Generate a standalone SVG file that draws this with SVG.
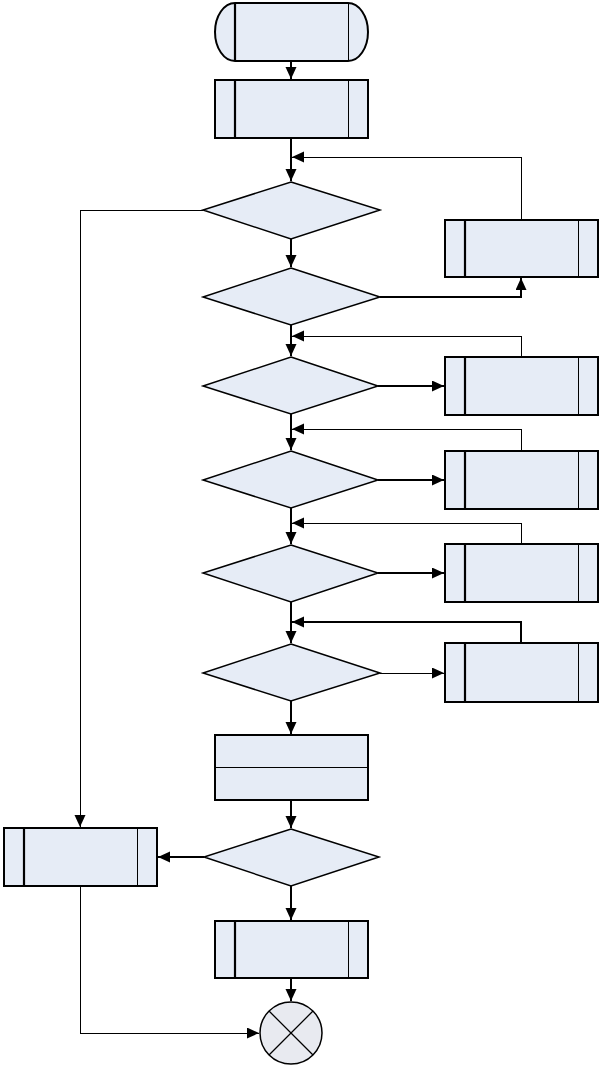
<svg xmlns="http://www.w3.org/2000/svg" width="601" height="1068" viewBox="0 0 601 1068">
<style>
.n{fill:#e6ecf6;stroke:#000;stroke-width:2}
.d{fill:#e6ecf6;stroke:#000;stroke-width:1.5}
.ti{stroke:#000;stroke-width:2.2;fill:none}
.tn{stroke:#000;stroke-width:1;fill:none;shape-rendering:crispEdges}
.c2{stroke:#000;stroke-width:2;fill:none}
.c1{stroke:#000;stroke-width:1;fill:none;shape-rendering:crispEdges}
</style>
<defs>
<marker id="ah" markerUnits="userSpaceOnUse" markerWidth="14" markerHeight="12" refX="12" refY="5.5" orient="auto">
<path d="M0,0 L12,5.5 L0,11 Z" fill="#000"/>
</marker>
</defs>
<rect width="601" height="1068" fill="#fff"/>
<g id="connectors">
<path class="c2" d="M291,61 V79" marker-end="url(#ah)"/>
<path class="c2" d="M291,138 V181" marker-end="url(#ah)"/>
<path class="c1" d="M521,220 V157 H292" marker-end="url(#ah)"/>
<path class="c2" d="M291,239 V267" marker-end="url(#ah)"/>
<path class="c2" d="M380,297 H521 V278" marker-end="url(#ah)"/>
<path class="c1" d="M203,210 H80 V827" marker-end="url(#ah)"/>
<path class="c2" d="M291,325 V356" marker-end="url(#ah)"/>
<path class="c1" d="M521,357 V336 H292" marker-end="url(#ah)"/>
<path class="c2" d="M378,386 H444" marker-end="url(#ah)"/>
<path class="c2" d="M291,414 V450" marker-end="url(#ah)"/>
<path class="c1" d="M521,451 V429 H292" marker-end="url(#ah)"/>
<path class="c2" d="M378,480 H444" marker-end="url(#ah)"/>
<path class="c2" d="M291,508 V544" marker-end="url(#ah)"/>
<path class="c1" d="M521,544 V523 H292" marker-end="url(#ah)"/>
<path class="c2" d="M378,573 H444" marker-end="url(#ah)"/>
<path class="c2" d="M291,602 V643" marker-end="url(#ah)"/>
<path class="c2" d="M521,643 V622 H292" marker-end="url(#ah)"/>
<path class="c1" d="M380,673 H444" marker-end="url(#ah)"/>
<path class="c2" d="M291,701 V734" marker-end="url(#ah)"/>
<path class="c2" d="M291,800 V828" marker-end="url(#ah)"/>
<path class="c2" d="M204,857 H158" marker-end="url(#ah)"/>
<path class="c2" d="M291,886 V920" marker-end="url(#ah)"/>
<path class="c2" d="M291,978 V1001" marker-end="url(#ah)"/>
<path class="c1" d="M80,886 V1033 H259" marker-end="url(#ah)"/>
</g>
<g id="start">
<path class="n" d="M235,3 H348 A20,29 0 0 1 348,61 H235 A20,29 0 0 1 235,3 Z"/>
<path class="ti" d="M235,3 V61"/>
<path class="tn" d="M348,3 V61"/>
</g>
<g id="box1">
<rect class="n" x="215" y="80" width="153" height="58"/>
<path class="ti" d="M235,80 V138"/>
<path class="tn" d="M348,80 V138"/>
</g>
<g id="dec1"><path class="d" d="M291,182 L380,210 L291,239 L203,210 Z"/></g>
<g id="dec2"><path class="d" d="M291,268 L380,297 L291,325 L203,297 Z"/></g>
<g id="sub1">
<rect class="n" x="445" y="220" width="153" height="57"/>
<path class="ti" d="M465,220 V277"/>
<path class="tn" d="M578,220 V277"/>
</g>
<g id="dec3"><path class="d" d="M291,357 L378,386 L291,414 L203,386 Z"/></g>
<g id="sub2">
<rect class="n" x="445" y="357" width="153" height="58"/>
<path class="ti" d="M465,357 V415"/>
<path class="tn" d="M578,357 V415"/>
</g>
<g id="dec4"><path class="d" d="M291,451 L378,480 L291,508 L203,480 Z"/></g>
<g id="sub3">
<rect class="n" x="445" y="451" width="153" height="58"/>
<path class="ti" d="M465,451 V509"/>
<path class="tn" d="M578,451 V509"/>
</g>
<g id="dec5"><path class="d" d="M291,545 L378,573 L291,602 L203,573 Z"/></g>
<g id="sub4">
<rect class="n" x="445" y="544" width="153" height="58"/>
<path class="ti" d="M465,544 V602"/>
<path class="tn" d="M578,544 V602"/>
</g>
<g id="dec6"><path class="d" d="M291,644 L380,673 L291,701 L203,673 Z"/></g>
<g id="sub5">
<rect class="n" x="445" y="643" width="153" height="59"/>
<path class="ti" d="M465,643 V702"/>
<path class="tn" d="M578,643 V702"/>
</g>
<g id="data">
<rect class="n" x="215" y="735" width="153" height="65"/>
<path class="tn" d="M215,767 H368"/>
</g>
<g id="dec7"><path class="d" d="M291,829 L379,857 L291,886 L204,857 Z"/></g>
<g id="sub6">
<rect class="n" x="4" y="828" width="153" height="58"/>
<path class="ti" d="M24,828 V886"/>
<path class="tn" d="M137,828 V886"/>
</g>
<g id="box7">
<rect class="n" x="215" y="921" width="153" height="57"/>
<path class="ti" d="M235,921 V978"/>
<path class="tn" d="M348,921 V978"/>
</g>
<g id="end">
<circle cx="291" cy="1033" r="31" fill="#e8eaf0" stroke="#000" stroke-width="1.5"/>
<path stroke="#000" stroke-width="1.3" fill="none" d="M269,1011 L313,1055 M313,1011 L269,1055"/>
</g>
</svg>
